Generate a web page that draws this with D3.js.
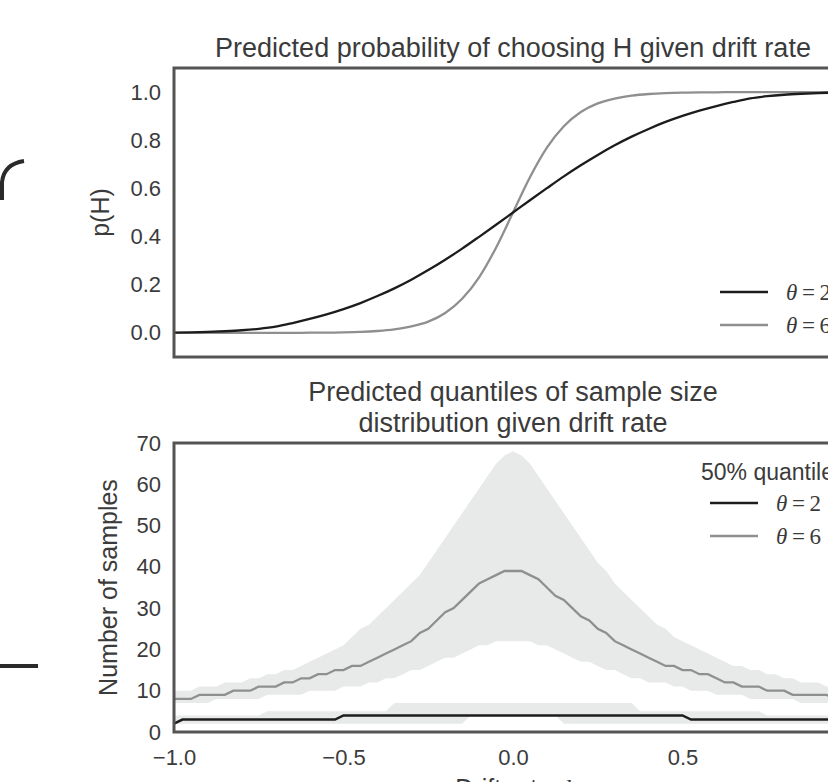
<!DOCTYPE html>
<html>
<head>
<meta charset="utf-8">
<script src="https://cdn.jsdelivr.net/npm/d3@7"></script>
<style>
  body { margin: 0; background: #fff; }
  text { font-family: "Liberation Sans", Arial, Helvetica, sans-serif; fill: #3b3b3b; }
</style>
</head>
<body>
<div id="chart-area"></div>
<script>
// drift rate grid, top panel (step 0.05)
var driftTop = [-1, -0.95, -0.9, -0.85, -0.8, -0.75, -0.7, -0.65, -0.6, -0.55, -0.5,
  -0.45, -0.4, -0.35, -0.3, -0.25, -0.2, -0.15, -0.1, -0.05, 0,
  0.05, 0.1, 0.15, 0.2, 0.25, 0.3, 0.35, 0.4, 0.45, 0.5,
  0.55, 0.6, 0.65, 0.7, 0.75, 0.8, 0.85, 0.9, 0.95, 1];

// p(H), theta = 2 and theta = 6
var pTheta2 = [0.001, 0.002, 0.004, 0.007, 0.011, 0.017, 0.026, 0.041, 0.058, 0.077, 0.099,
  0.124, 0.153, 0.185, 0.221, 0.261, 0.304, 0.350, 0.399, 0.449, 0.500,
  0.551, 0.601, 0.650, 0.696, 0.739, 0.779, 0.815, 0.847, 0.876, 0.901,
  0.923, 0.942, 0.959, 0.974, 0.983, 0.989, 0.993, 0.996, 0.998, 0.999];
var pTheta6 = [0, 0, 0, 0, 0, 0, 0, 0, 0.001, 0.001, 0.002,
  0.004, 0.008, 0.015, 0.027, 0.047, 0.083, 0.142, 0.231, 0.354, 0.500,
  0.646, 0.769, 0.858, 0.917, 0.953, 0.973, 0.985, 0.992, 0.996, 0.998,
  0.999, 0.999, 1, 1, 1, 1, 1, 1, 1, 1];

// drift rate grid, bottom panel (step 0.025)
var driftBot = [-1, -0.975, -0.95, -0.925, -0.9, -0.875, -0.85, -0.825, -0.8, -0.775,
  -0.75, -0.725, -0.7, -0.675, -0.65, -0.625, -0.6, -0.575, -0.55, -0.525,
  -0.5, -0.475, -0.45, -0.425, -0.4, -0.375, -0.35, -0.325, -0.3, -0.275,
  -0.25, -0.225, -0.2, -0.175, -0.15, -0.125, -0.1, -0.075, -0.05, -0.025,
  0, 0.025, 0.05, 0.075, 0.1, 0.125, 0.15, 0.175, 0.2, 0.225,
  0.25, 0.275, 0.3, 0.325, 0.35, 0.375, 0.4, 0.425, 0.45, 0.475,
  0.5, 0.525, 0.55, 0.575, 0.6, 0.625, 0.65, 0.675, 0.7, 0.725,
  0.75, 0.775, 0.8, 0.825, 0.85, 0.875, 0.9, 0.925, 0.95, 0.975, 1];

// sample size quantiles, theta = 6
var low6 = [7, 7, 7, 7, 7, 8, 8, 8, 8, 8, 8, 9, 9, 9, 9, 9, 10, 10, 10, 10,
  11, 11, 11, 12, 12, 13, 13, 14, 15, 15, 16, 17, 18, 18, 19, 20, 21, 21, 22, 22,
  22, 22, 22, 21, 21, 20, 19, 18, 17, 17, 16, 15, 15, 14, 13, 13, 12, 12, 12, 11,
  11, 10, 10, 10, 9, 9, 9, 9, 8, 8, 8, 8, 8, 8, 7, 7, 7, 7, 7, 7, 7];
var med6 = [8, 8, 8, 9, 9, 9, 9, 10, 10, 10, 11, 11, 11, 12, 12, 13, 13, 14, 14, 15,
  15, 16, 16, 17, 18, 19, 20, 21, 22, 24, 25, 27, 29, 30, 32, 34, 36, 37, 38, 39,
  39, 39, 38, 37, 35, 33, 32, 30, 28, 27, 25, 24, 22, 21, 20, 19, 18, 17, 16, 16,
  15, 15, 14, 14, 13, 12, 12, 11, 11, 11, 10, 10, 10, 9, 9, 9, 9, 9, 8, 8, 8];
var up6 = [10, 10, 10, 11, 11, 11, 12, 12, 12, 13, 13, 14, 14, 15, 15, 16, 17, 18, 19, 20,
  21, 23, 25, 26, 28, 30, 32, 34, 36, 38, 41, 44, 47, 50, 53, 56, 59, 62, 65, 67,
  68, 67, 65, 62, 59, 56, 53, 50, 47, 44, 41, 39, 36, 34, 32, 30, 28, 26, 25, 23,
  22, 21, 20, 19, 18, 17, 16, 16, 15, 15, 14, 14, 13, 13, 12, 12, 12, 11, 11, 11, 10];

// sample size quantiles, theta = 2
var low2 = [2, 2, 2, 2, 2, 2, 2, 2, 2, 2, 2, 2, 2, 2, 2, 2, 2, 2, 2, 2,
  2, 2, 2, 2, 2, 2, 2, 2, 2, 2, 2, 2, 2, 2, 2, 4, 4, 4, 4, 4,
  4, 4, 4, 4, 4, 4, 2, 2, 2, 2, 2, 2, 2, 2, 2, 2, 2, 2, 2, 2,
  2, 2, 2, 2, 2, 2, 2, 2, 2, 2, 2, 2, 2, 2, 2, 2, 2, 2, 2, 2, 2];
var med2 = [2, 3, 3, 3, 3, 3, 3, 3, 3, 3, 3, 3, 3, 3, 3, 3, 3, 3, 3, 3,
  4, 4, 4, 4, 4, 4, 4, 4, 4, 4, 4, 4, 4, 4, 4, 4, 4, 4, 4, 4,
  4, 4, 4, 4, 4, 4, 4, 4, 4, 4, 4, 4, 4, 4, 4, 4, 4, 4, 4, 4,
  4, 3, 3, 3, 3, 3, 3, 3, 3, 3, 3, 3, 3, 3, 3, 3, 3, 3, 3, 3, 3];
var up2 = [4, 4, 4, 4, 4, 4, 4, 4, 4, 4, 4, 5, 5, 5, 5, 5, 5, 5, 5, 5,
  5, 5, 5, 5, 5, 5, 7, 7, 7, 7, 7, 7, 7, 7, 7, 7, 7, 7, 7, 7,
  7, 7, 7, 7, 7, 7, 7, 7, 7, 7, 7, 7, 7, 7, 7, 5, 5, 5, 5, 5,
  5, 5, 5, 5, 5, 5, 5, 5, 5, 5, 4, 4, 4, 4, 4, 4, 4, 4, 4, 4, 4];

var pTicks = [0, 0.2, 0.4, 0.6, 0.8, 1.0];
var nTicks = [0, 10, 20, 30, 40, 50, 60, 70];
var xTicks = [-1, -0.5, 0, 0.5];
var legendLabels = ["2", "6"];

var width = 828;
var height = 782;
var plotLeft = 174, plotRight = 852;
var top1 = 68, bottom1 = 357;
var top2 = 443, bottom2 = 732;

var black = "#1c1c1c", grey = "#8f8f8f", band = "#e8e9e9", spine = "#545454";
var tickFont = "22px";

var svg = d3.select("#chart-area")
  .append("svg")
  .attr("width", width)
  .attr("height", height);

var x = d3.scaleLinear().domain([-1, 1]).range([plotLeft, plotRight]);
var yP = d3.scaleLinear().domain([-0.1, 1.1]).range([bottom1, top1]);
var yN = d3.scaleLinear().domain([0, 70]).range([bottom2, top2]);

// ---- top panel ----
var topLine = d3.line()
  .x((d, i) => x(driftTop[i]))
  .y(d => yP(d))
  .curve(d3.curveMonotoneX);

svg.append("path").datum(pTheta6)
  .attr("d", topLine).attr("fill", "none")
  .attr("stroke", grey).attr("stroke-width", 2.3);
svg.append("path").datum(pTheta2)
  .attr("d", topLine).attr("fill", "none")
  .attr("stroke", black).attr("stroke-width", 2.3);

svg.append("g")
  .attr("transform", "translate(" + plotLeft + ",0)")
  .call(d3.axisLeft(yP).tickValues(pTicks).tickSize(0).tickPadding(13).tickFormat(d3.format(".1f")))
  .call(g => g.select(".domain").remove())
  .selectAll("text")
  .attr("font-size", tickFont)
  .attr("font-family", "Liberation Sans, Arial, sans-serif")
  .attr("fill", "#3b3b3b");

svg.append("rect")
  .attr("x", plotLeft).attr("y", top1)
  .attr("width", plotRight - plotLeft).attr("height", bottom1 - top1)
  .attr("fill", "none").attr("stroke", spine).attr("stroke-width", 3);

svg.append("text")
  .attr("x", (plotLeft + plotRight) / 2).attr("y", 57)
  .attr("text-anchor", "middle")
  .attr("font-size", "27px")
  .text("Predicted probability of choosing H given drift rate");

svg.append("text")
  .attr("transform", "translate(109," + (top1 + bottom1) / 2 + ") rotate(-90)")
  .attr("text-anchor", "middle")
  .attr("font-size", "25px")
  .text("p(H)");

// legend entry: handle line + theta label
function legendEntry(lx, ly, color, lw, label) {
  svg.append("line")
    .attr("x1", lx).attr("x2", lx + 48).attr("y1", ly).attr("y2", ly)
    .attr("stroke", color).attr("stroke-width", lw);
  var t = svg.append("text")
    .attr("x", lx + 66).attr("y", ly + 8)
    .attr("font-size", "23px")
    .style("font-family", "Liberation Serif, DejaVu Serif, serif");
  t.append("tspan").attr("font-style", "italic").text("\u03b8");
  t.append("tspan").text("\u2009=\u2009" + label);
}
legendEntry(720, 292, black, 2.5, legendLabels[0]);
legendEntry(720, 325, grey, 2.5, legendLabels[1]);

// ---- bottom panel ----
var bandArea = (lo, hi) => d3.area()
  .x((d, i) => x(driftBot[i]))
  .y0((d, i) => yN(lo[i]))
  .y1((d, i) => yN(hi[i]));

svg.append("path").datum(driftBot)
  .attr("d", bandArea(low6, up6)).attr("fill", band);
svg.append("path").datum(driftBot)
  .attr("d", bandArea(low2, up2)).attr("fill", band);

var botLine = d3.line()
  .x((d, i) => x(driftBot[i]))
  .y(d => yN(d));

svg.append("path").datum(med6)
  .attr("d", botLine).attr("fill", "none")
  .attr("stroke", grey).attr("stroke-width", 2.3);
svg.append("path").datum(med2)
  .attr("d", botLine).attr("fill", "none")
  .attr("stroke", black).attr("stroke-width", 2.5);

svg.append("g")
  .attr("transform", "translate(" + plotLeft + ",0)")
  .call(d3.axisLeft(yN).tickValues(nTicks).tickSize(0).tickPadding(13))
  .call(g => g.select(".domain").remove())
  .selectAll("text")
  .attr("font-size", tickFont)
  .attr("font-family", "Liberation Sans, Arial, sans-serif")
  .attr("fill", "#3b3b3b");

svg.append("g")
  .attr("transform", "translate(0," + bottom2 + ")")
  .call(d3.axisBottom(x).tickValues(xTicks).tickSize(0).tickPadding(17).tickFormat(d3.format(".1f")))
  .call(g => g.select(".domain").remove())
  .selectAll("text")
  .attr("font-size", tickFont)
  .attr("font-family", "Liberation Sans, Arial, sans-serif")
  .attr("fill", "#3b3b3b");

svg.append("rect")
  .attr("x", plotLeft).attr("y", top2)
  .attr("width", plotRight - plotLeft).attr("height", bottom2 - top2)
  .attr("fill", "none").attr("stroke", spine).attr("stroke-width", 3);

svg.append("text")
  .attr("x", (plotLeft + plotRight) / 2).attr("y", 401)
  .attr("text-anchor", "middle")
  .attr("font-size", "27px")
  .text("Predicted quantiles of sample size");
svg.append("text")
  .attr("x", (plotLeft + plotRight) / 2).attr("y", 432)
  .attr("text-anchor", "middle")
  .attr("font-size", "27px")
  .text("distribution given drift rate");

svg.append("text")
  .attr("transform", "translate(117," + (top2 + bottom2) / 2 + ") rotate(-90)")
  .attr("text-anchor", "middle")
  .attr("font-size", "25px")
  .text("Number of samples");

var xl = svg.append("text")
  .attr("x", (plotLeft + plotRight) / 2).attr("y", 797)
  .attr("text-anchor", "middle")
  .attr("font-size", "25px");
xl.append("tspan").text("Drift rate ");
xl.append("tspan").attr("font-style", "italic")
  .style("font-family", "Liberation Serif, serif").text("d");

// legend, bottom
svg.append("text")
  .attr("x", 701).attr("y", 480)
  .attr("font-size", "23px")
  .text("50% quantile");
legendEntry(710, 503, black, 2.5, legendLabels[0]);
legendEntry(710, 536, grey, 2.5, legendLabels[1]);

// bits of the neighbouring panel, cut by the frame
svg.append("path")
  .attr("d", "M2,200 L2,182 Q4,164 24,161")
  .attr("fill", "none").attr("stroke", "#2a2a2a").attr("stroke-width", 4);
svg.append("line")
  .attr("x1", 0).attr("x2", 38).attr("y1", 666).attr("y2", 666)
  .attr("stroke", "#2a2a2a").attr("stroke-width", 4);
</script>
</body>
</html>
